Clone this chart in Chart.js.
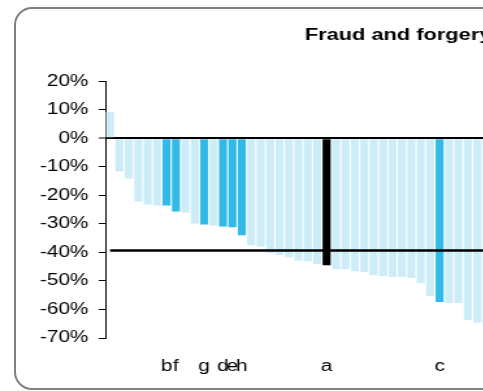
<!DOCTYPE html>
<html>
<head>
<meta charset="utf-8">
<script src="https://cdn.jsdelivr.net/npm/chart.js@4.4.1/dist/chart.umd.min.js"></script>
<style>
  html, body { margin: 0; padding: 0; width: 483px; height: 391px; overflow: hidden; background: #fff; }
  #frame {
    position: absolute; left: 14px; top: 7px; width: 620px; height: 383px;
    box-sizing: border-box; border: 2px solid #808080; border-radius: 18px;
  }
  #wrap {
    position: absolute; left: 0; top: 0; width: 378px; height: 391px;
    transform: scaleX(1.3); transform-origin: 0 0;
  }
</style>
</head>
<body>
<div id="frame"></div>
<div id="wrap"><canvas id="chart" width="378" height="391"></canvas></div>
<script>
// Change in recorded fraud and forgery by police force area (%), sorted high to low
const forceLabels = [
  '', '', '', '', '', '', 'b', 'f', '', '',
  'g', '', 'd', 'e', 'h', '', '', '', '', '',
  '', '', '', 'a', '', '', '', '', '', '',
  '', '', '', '', '', 'c', '', '', '', '',
  ''
];
const forceChange = [
    9.2, -11.6, -14.1, -22.2, -23.2, -23.6, -23.6, -25.7, -26.0, -29.9,
  -30.2, -30.6, -30.9, -31.2, -34.0, -37.5, -37.9, -40.2, -40.9, -41.7,
  -42.8, -43.1, -44.1, -44.5, -45.9, -45.9, -46.6, -46.9, -48.0, -48.3,
  -48.6, -48.6, -49.0, -50.8, -55.3, -57.4, -57.7, -57.7, -63.7, -64.7,
  -66.0
];
// National change, drawn as a flat reference line across all forces
const nationalChange = -39.3;
const yTicks = [20, 10, 0, -10, -20, -30, -40, -50, -60, -70];

const LIGHT = '#CCECF8';
const HIGHLIGHT = '#33B9E8';
const SELECTED = '#000000';
const barColours = forceLabels.map(l => l === 'a' ? SELECTED : (l ? HIGHLIGHT : LIGHT));

const FONT = "'Liberation Sans', Arial, sans-serif";
const lastIndex = forceLabels.length - 1;

new Chart(document.getElementById('chart'), {
  type: 'bar',
  data: {
    labels: forceLabels,
    datasets: [
      {
        type: 'line',
        xAxisID: 'xLine',
        data: [{ x: 0, y: nationalChange }, { x: lastIndex, y: nationalChange }],
        borderColor: '#000',
        borderWidth: 2.5,
        pointRadius: 0,
        order: 0
      },
      {
        xAxisID: 'x',
        data: forceChange,
        backgroundColor: barColours,
        borderWidth: 0,
        grouped: false,
        barPercentage: 0.85,
        categoryPercentage: 1.0,
        order: 1
      }
    ]
  },
  options: {
    responsive: false,
    animation: false,
    events: [],
    layout: { padding: { top: 0, left: 0, right: 0, bottom: 5 } },
    plugins: {
      legend: { display: false },
      tooltip: { enabled: false },
      title: {
        display: true,
        text: 'Fraud and forgery',
        align: 'end',
        color: '#000',
        font: { family: FONT, size: 16.8, weight: 'bold' },
        padding: { top: 25, bottom: 36 }
      }
    },
    scales: {
      x: {
        grid: { display: false, drawTicks: false },
        border: { display: false },
        afterFit(scale) { scale.height = 48; scale.paddingLeft = 0; scale.paddingRight = 0; },
        ticks: {
          autoSkip: false, maxRotation: 0, minRotation: 0,
          color: '#000', padding: 19,
          font: { family: FONT, size: 16 }
        }
      },
      xLine: {
        type: 'linear',
        display: false,
        offset: false,
        bounds: 'data',
        min: -0.5,
        max: lastIndex + 0.5
      },
      y: {
        min: -70, max: 20,
        afterFit(scale) { scale.width = 81; },
        afterBuildTicks(scale) { scale.ticks = yTicks.map(v => ({ value: v })); },
        border: { display: true, color: '#000', width: 1 },
        grid: {
          drawOnChartArea: true,
          color: c => (c.tick && c.tick.value === 0) ? '#000' : 'rgba(0,0,0,0)',
          lineWidth: c => (c.tick && c.tick.value === 0) ? 2 : 1,
          tickColor: '#000', tickWidth: 1, tickLength: 5
        },
        ticks: {
          color: '#000', padding: 8,
          font: { family: FONT, size: 16 },
          callback: v => v + '%'
        }
      }
    }
  }
});
</script>
</body>
</html>
